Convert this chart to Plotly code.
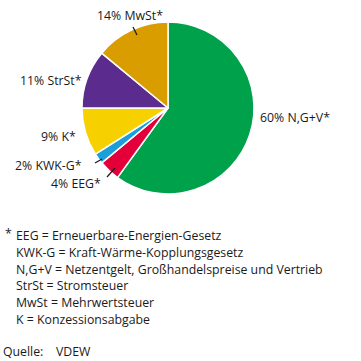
import plotly.graph_objects as go

W = H = 361

categories = ["N,G+V", "EEG", "KWK-G", "K", "StrSt", "MwSt"]
values = [60, 4, 2, 9, 11, 14]
colors = ["#00a14b", "#e3003a", "#1a9fdb", "#f7d000", "#5b2c8d", "#d99d00"]

footnotes = [
    "EEG = Erneuerbare-Energien-Gesetz",
    "KWK-G = Kraft-Wärme-Kopplungsgesetz",
    "N,G+V = Netzentgelt, Großhandelspreise und Vertrieb",
    "StrSt = Stromsteuer",
    "MwSt = Mehrwertsteuer",
    "K = Konzessionsabgabe",
]
source = "VDEW"

FONT = "Open Sans"
TXT = "#1a1a1a"
FS = 12.3


def px(x):
    return x / W


def py(y):
    return 1 - y / H


# pie: centre (168,108), radius 86 px
cx, cy, r = 168, 108, 86
fig = go.Figure(
    go.Pie(
        labels=categories,
        values=values,
        sort=False,
        direction="clockwise",
        rotation=0,
        marker=dict(colors=colors, line=dict(color="white", width=1.5)),
        textinfo="none",
        hoverinfo="label+percent",
        domain=dict(x=[px(cx - r), px(cx + r)], y=[py(cy + r), py(cy - r)]),
        showlegend=False,
    )
)

# label placement (pixel anchor, xanchor)
label_pos = {
    "N,G+V": (258, 117, "left"),
    "EEG": (103, 183, "right"),
    "KWK-G": (84, 165, "right"),
    "K": (78, 137, "right"),
    "StrSt": (84, 80, "right"),
    "MwSt": (130, 15, "center"),
}

annotations = []
for cat, val in zip(categories, values):
    x, y, anc = label_pos[cat]
    annotations.append(
        dict(
            x=px(x), y=py(y), xref="paper", yref="paper",
            text=f"{val}% {cat}*", showarrow=False, xanchor=anc, yanchor="middle",
            font=dict(family=FONT, size=FS, color=TXT),
        )
    )

# footnotes
y0 = 235.5
dy = 16.8
annotations.append(
    dict(x=px(3), y=py(y0 - 2), xref="paper", yref="paper", text="*", showarrow=False,
         xanchor="left", yanchor="middle", font=dict(family=FONT, size=FS, color=TXT))
)
for i, line in enumerate(footnotes):
    annotations.append(
        dict(x=px(14), y=py(y0 + i * dy), xref="paper", yref="paper", text=line,
             showarrow=False, xanchor="left", yanchor="middle",
             font=dict(family=FONT, size=FS, color=TXT))
    )
annotations.append(
    dict(x=px(1), y=py(351), xref="paper", yref="paper", text="Quelle:", showarrow=False,
         xanchor="left", yanchor="middle", font=dict(family=FONT, size=FS, color=TXT))
)
annotations.append(
    dict(x=px(54), y=py(351), xref="paper", yref="paper", text=source, showarrow=False,
         xanchor="left", yanchor="middle", font=dict(family=FONT, size=FS, color=TXT))
)

leaders = [((133, 27), (137, 35)), ((95, 163), (102, 159)), ((107, 177), (115, 168))]
shapes = [
    dict(type="line", xref="paper", yref="paper", x0=px(a[0]), y0=py(a[1]), x1=px(b[0]), y1=py(b[1]),
         line=dict(color=TXT, width=1.2))
    for a, b in leaders
]

fig.update_layout(
    width=W, height=H,
    margin=dict(l=0, r=0, t=0, b=0),
    paper_bgcolor="white",
    plot_bgcolor="white",
    annotations=annotations,
    shapes=shapes,
)

fig.write_html(
    "out.html",
    config={"displayModeBar": False},
    post_script="document.body.style.margin='0';document.body.style.padding='0';document.body.style.overflow='hidden';",
)
